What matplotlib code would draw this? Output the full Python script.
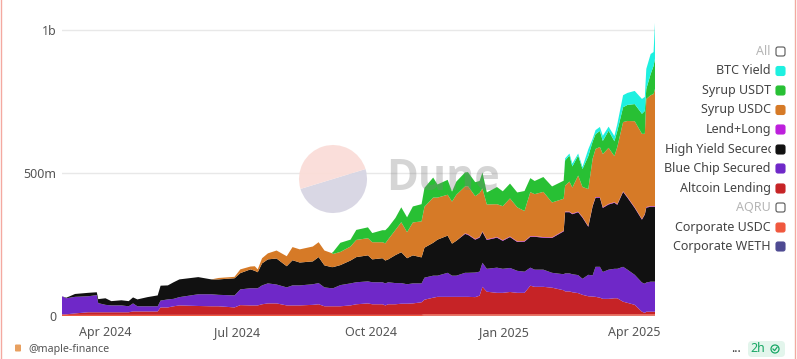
import matplotlib
matplotlib.use("Agg")
import matplotlib.pyplot as plt
import matplotlib.dates as mdates
from matplotlib.patches import Wedge, FancyBboxPatch, Circle, Rectangle
import numpy as np
import datetime as dt

plt.rcParams['font.family'] = ['Noto Sans', 'DejaVu Sans']

START = dt.date(2024, 3, 2)
days = [0,3,9,18,24,25,30,34,41,46,
        49,52,59,66,68,73,77,81,94,103,
        108,119,123,130,133,135,138,142,148,155,
        159,164,173,177,181,186,187,192,199,203,
        211,214,221,223,225,230,234,238,242,248,
        250,256,259,266,269,272,278,280,285,288,
        290,293,300,304,309,314,319,323,326,332,
        338,346,347,350,352,356,359,363,366,368,
        371,373,377,381,383,387,390,395,400,402,
        403,406,408,409]
corp_weth = [0]*50 + [1]*44
corp_usdc = [4]*50 + [5]*44
altcoin = [2,2,5,9,9,9,9,9,9,9,
           12,12,12,12,26,26,30,33,31,30,
           30,26,34,33,33,33,37,40,40,33,
           33,33,35,37,30,30,30,30,33,37,
           40,37,37,33,37,37,39,39,40,44,
           51,58,61,61,61,61,61,61,60,65,
           96,79,75,75,78,75,75,100,96,96,
           93,84,80,80,77,74,68,63,62,61,
           58,54,54,56,56,44,40,33,9,5,
           9,9,9,9]
blue_chip = [63,56,58,56,60,32,26,24,24,21,
             28,18,18,18,24,28,26,29,41,42,
             40,42,55,60,60,60,66,70,66,63,
             70,70,72,74,66,63,63,74,77,77,
             77,77,77,77,77,74,72,68,70,66,
             77,77,74,84,74,74,84,84,86,84,
             84,80,88,84,84,77,74,63,60,60,
             52,56,63,63,63,63,56,75,74,105,
             108,94,102,103,103,122,116,105,102,102,
             102,105,105,105]
high_yield = [0,2,10,12,10,14,23,15,18,18,
              21,24,32,38,52,49,58,62,60,52,
              54,60,57,66,61,56,77,84,91,74,
              88,80,80,91,77,74,74,70,80,88,
              91,80,84,80,80,98,108,91,98,91,
              105,115,126,130,112,122,136,133,115,119,
              108,101,105,98,108,101,105,108,115,112,
              122,150,214,214,210,220,214,168,242,242,
              242,224,228,231,224,262,252,234,220,242,
              262,262,262,262]
lend_long = [0]*56 + [2]*38
syrup_usdc = [0,0,0,0,0,0,0,0,0,0,
              0,0,0,0,0,0,0,0,0,0,
              5,5,13,10,16,10,18,21,28,35,
              46,46,52,52,52,49,46,46,49,60,
              60,60,56,60,70,88,105,91,115,126,
              143,158,147,143,147,161,164,168,150,154,
              150,122,115,119,133,119,105,154,147,158,
              122,112,91,105,91,126,105,130,164,168,
              175,186,196,161,200,242,266,301,298,280,
              378,388,392,410]
syrup_usdt = [0,0,0,0,0,0,0,0,0,0,
              0,0,0,0,0,0,0,0,0,0,
              0,0,0,0,0,0,0,0,0,0,
              0,0,0,0,0,0,7,32,24,35,
              38,32,42,46,42,42,52,52,56,60,
              66,70,46,52,35,46,49,49,49,42,
              56,42,60,52,52,52,70,49,46,52,
              56,63,88,91,74,70,63,115,60,52,
              56,46,60,52,56,52,56,60,70,80,
              35,74,98,105]
btc_yield = [0]*72 + [7,7,10,7,7,24,10,14,
              14,18,14,18,24,42,42,46,52,49,
              70,70,49,126]

series_labels = ["Corporate WETH","Corporate USDC","Altcoin Lending","Blue Chip Secured",
                 "High Yield Secured","Lend+Long","Syrup USDC","Syrup USDT","BTC Yield"]
series_colors = ["#4E4A92","#F0583E","#C62326","#6F28C8","#111111","#BD1FDC","#D67A27","#28C034","#1EF0E0"]
legend_order = ["All","BTC Yield","Syrup USDT","Syrup USDC","Lend+Long","High Yield Secured",
                "Blue Chip Secured","Altcoin Lending","AQRU","Corporate USDC","Corporate WETH"]
legend_colors = [None,"#1EF0E0","#28C034","#D67A27","#BD1FDC","#111111","#6F28C8","#C62326",None,"#F0583E","#4E4A92"]
tick_dates = [dt.date(2024,4,1),dt.date(2024,7,1),dt.date(2024,10,1),dt.date(2025,1,1),dt.date(2025,4,1)]
tick_labels = ["Apr 2024","Jul 2024","Oct 2024","Jan 2025","Apr 2025"]
y_ticks = [0,500,1000]
y_labels = ["0","500m","1b"]

W, H = 797, 359
fig = plt.figure(figsize=(W/100, H/100), dpi=100, facecolor="white")
L, R, T, B = 62, 655, 20, 316
ax = fig.add_axes([L/W, (H-B)/H, (R-L)/W, (B-T)/H])
x = [mdates.date2num(START + dt.timedelta(days=d)) for d in days]
ax.stackplot(x, corp_weth, corp_usdc, altcoin, blue_chip, high_yield, lend_long,
             syrup_usdc, syrup_usdt, btc_yield, colors=series_colors, labels=series_labels,
             linewidth=0, zorder=2)
ax.set_xlim(x[0], x[-1])
ax.set_ylim(0, (B-T)*1000/286)
ax.set_yticks(y_ticks)
ax.set_yticklabels(y_labels, fontsize=9, color="#555555")
ax.set_xticks([mdates.date2num(d) for d in tick_dates])
ax.set_xticklabels(tick_labels, fontsize=9, color="#555555")
ax.tick_params(axis='y', length=0, pad=4)
ax.tick_params(axis='x', length=0, pad=7)
ax.grid(axis='y', color="#E8E8E8", linewidth=1, zorder=0)
ax.set_axisbelow(True)
for s in ax.spines.values():
    s.set_visible(False)

o = fig.add_axes([0, 0, 1, 1], zorder=5)
o.set_xlim(0, W); o.set_ylim(H, 0); o.axis("off"); o.patch.set_alpha(0)

# watermark (y axis of the overlay points down, so angles run clockwise on screen)
cx, cy, r = 333, 179, 34
o.add_patch(Wedge((cx, cy), r, 343, 163, facecolor="#D7D5E3", edgecolor="none", alpha=0.95, zorder=1))
o.add_patch(Wedge((cx, cy), r, 163, 343, facecolor="#FADDD8", edgecolor="none", alpha=0.95, zorder=1))
o.text(386, 179, "Dune", fontsize=31, fontweight="bold", color="#808080", alpha=0.33,
       ha="left", va="center", family=["Open Sans"], zorder=1)

# legend
ys = [51.5,71,90.5,110,129.5,149.5,168.5,188.5,207.5,227.5,246.5]
clip = Rectangle((660, 0), 111.5, H, transform=o.transData)
for lab, col, y in zip(legend_order, legend_colors, ys):
    hidden = col is None
    t = o.text(771, y, lab, ha="right", va="center", fontsize=9,
               color="#B5B5B5" if hidden else "#444444")
    if lab.startswith("High"):
        t.set_x(665); t.set_ha("left")
    t.set_clip_path(clip); t.set_clip_on(True)
    o.add_patch(FancyBboxPatch((777, y-3.5), 7, 7, boxstyle="round,pad=1,rounding_size=2",
                               facecolor="white" if hidden else col,
                               edgecolor="#555555" if hidden else col, linewidth=0.8))

# frame lines
for xp in (1.5, 795.5):
    o.plot([xp, xp], [0, H], color="#F4A9A0", linewidth=1)

# footer
o.add_patch(FancyBboxPatch((15.5, 345), 5, 6, boxstyle="round,pad=0.5,rounding_size=1",
                           facecolor="#E8A060", edgecolor="none"))
o.text(28, 349.5, "@maple-finance", fontsize=7.7, color="#555555", ha="left", va="center")
o.text(736, 348, "...", fontsize=9, color="#333333", ha="center", va="center", fontweight="bold")
o.add_patch(FancyBboxPatch((751, 344), 31, 10, boxstyle="round,pad=3,rounding_size=4",
                           facecolor="#E3F5EC", edgecolor="none"))
o.text(758, 349, "2h", fontsize=9, color="#1AA866", ha="center", va="center")
o.add_patch(Circle((775, 349), 4, facecolor="none", edgecolor="#1AA866", linewidth=0.9))
o.plot([773, 774.6, 777], [349, 350.6, 347.4], color="#1AA866", linewidth=0.9)

fig.savefig("out.png", dpi=100)
